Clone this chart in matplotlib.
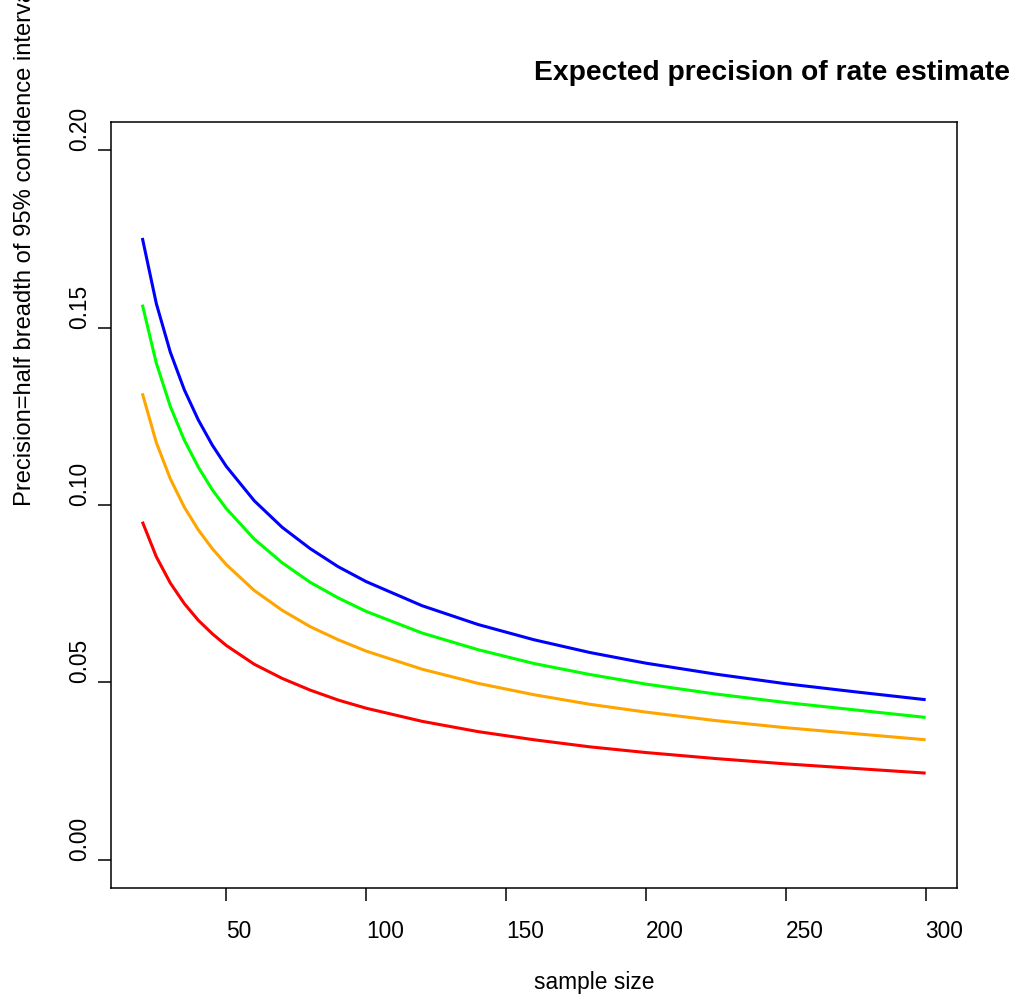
import matplotlib
matplotlib.use("Agg")
import matplotlib.pyplot as plt

plt.rcParams["font.family"] = ["Liberation Sans", "DejaVu Sans"]

# 読み取り値: 標本サイズごとの95%信頼区間の半幅
sample_size = [20, 25, 30, 35, 40, 45, 50, 60, 70, 80, 90, 100,
               120, 140, 160, 180, 200, 225, 250, 275, 300]
prec_blue = [0.1753, 0.1568, 0.1431, 0.1325, 0.1240, 0.1169, 0.1109,
             0.1012, 0.0937, 0.0877, 0.0826, 0.0784, 0.0716, 0.0663,
             0.0620, 0.0584, 0.0554, 0.0523, 0.0496, 0.0473, 0.0451]
prec_green = [0.1565, 0.1400, 0.1278, 0.1183, 0.1107, 0.1043, 0.0990,
              0.0904, 0.0837, 0.0782, 0.0738, 0.0700, 0.0639, 0.0592,
              0.0553, 0.0522, 0.0495, 0.0467, 0.0443, 0.0422, 0.0401]
prec_orange = [0.1315, 0.1176, 0.1074, 0.0994, 0.0930, 0.0877, 0.0832,
               0.0759, 0.0703, 0.0657, 0.0620, 0.0588, 0.0537, 0.0497,
               0.0465, 0.0438, 0.0416, 0.0392, 0.0372, 0.0355, 0.0338]
prec_red = [0.0953, 0.0854, 0.0780, 0.0722, 0.0675, 0.0637, 0.0604,
            0.0551, 0.0511, 0.0478, 0.0450, 0.0427, 0.0390, 0.0361,
            0.0338, 0.0318, 0.0302, 0.0285, 0.0270, 0.0257, 0.0244]

series = [
    (prec_blue, "#0000ff"),
    (prec_green, "#00ff00"),
    (prec_orange, "#ffa500"),
    (prec_red, "#ff0000"),
]

x_ticks = [50, 100, 150, 200, 250, 300]
y_ticks = [0.00, 0.05, 0.10, 0.15, 0.20]
y_tick_labels = ["0.00", "0.05", "0.10", "0.15", "0.20"]

W, H = 1014, 995
fig = plt.figure(figsize=(W / 100, H / 100), dpi=100)
ax = fig.add_axes([111 / W, 1 - 889 / H, (957 - 111) / W, (889 - 123) / H])

for vals, col in series:
    ax.plot(sample_size, vals, color=col, linewidth=2.2,
            solid_capstyle="butt")

# R風の4%拡張
ax.set_xlim(8.8, 311.2)
ax.set_ylim(-0.008, 0.208)

for s in ax.spines.values():
    s.set_linewidth(1.1)

ax.set_xticks(x_ticks)
ax.set_xticklabels([str(t) for t in x_ticks])
ax.set_yticks(y_ticks)
ax.set_yticklabels(y_tick_labels)
ax.tick_params(axis="both", direction="out", length=9.5, width=1.1,
               labelsize=16.4)
ax.tick_params(axis="x", pad=13)
ax.tick_params(axis="y", pad=8.6)

for lab in ax.get_xticklabels():
    lab.set_horizontalalignment("left")
for lab in ax.get_yticklabels():
    lab.set_rotation(90)
    lab.set_rotation_mode("anchor")
    lab.set_horizontalalignment("left")
    lab.set_verticalalignment("baseline")

# タイトル・軸ラベル（adj=0 で中央から左揃え）
cx = (111 + 957) / 2 / W
fig.text(cx, 1 - 80 / H, "Expected precision of rate estimate",
         fontsize=20.3, fontweight="bold", ha="left", va="baseline")
fig.text(cx, 1 - 989 / H, "sample size", fontsize=16.4,
         ha="left", va="baseline")
fig.text(31 / W, 1 - 506 / H,
         "Precision=half breadth of 95% confidence interval",
         fontsize=17.1, rotation=90, rotation_mode="anchor",
         ha="left", va="baseline")

fig.savefig("out.png", dpi=100)
